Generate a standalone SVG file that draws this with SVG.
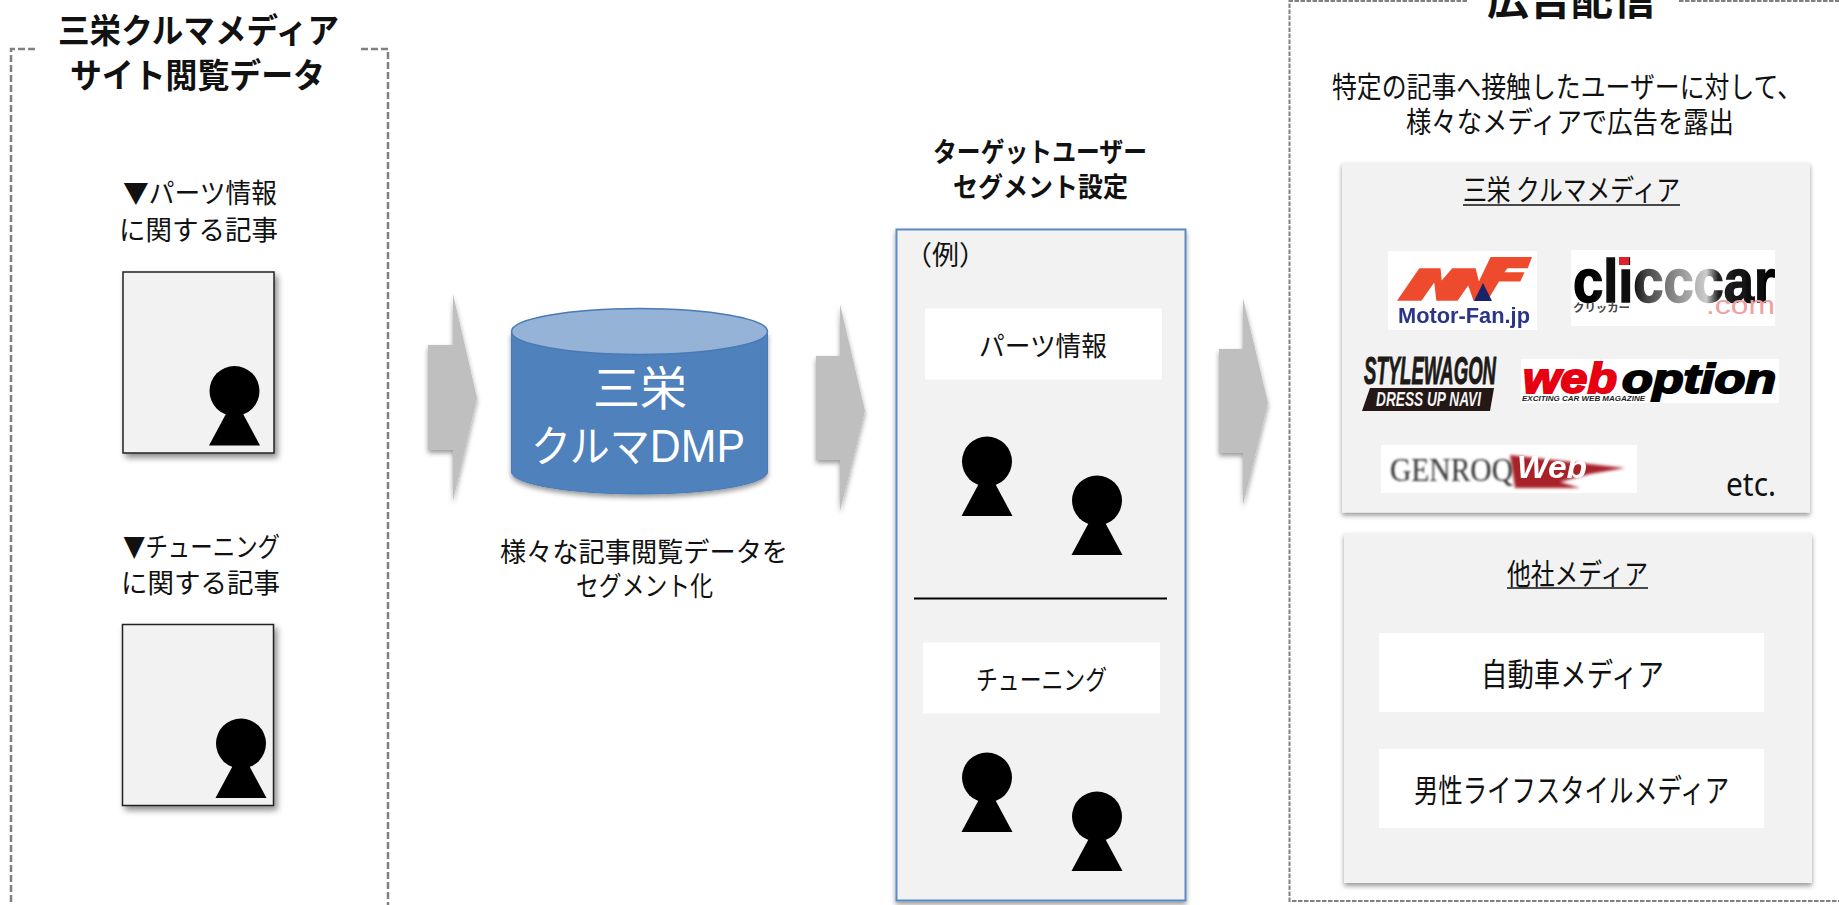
<svg xmlns="http://www.w3.org/2000/svg" width="1839" height="905" viewBox="0 0 1839 905">
<style>
text{font-family:"Noto Sans CJK JP","Noto Sans",sans-serif;fill:#111}
.b{font-weight:700}
.t27{font-size:27px}
.t29{font-size:29px}
.t32{font-size:32px}
.dash{fill:none;stroke:#808080;stroke-width:2.500;stroke-dasharray:7 3}
.dash2{fill:none;stroke:#808080;stroke-width:2;stroke-dasharray:4.500 1.500}
.doc{fill:#f2f2f2;stroke:#222;stroke-width:1.500}
.panel{fill:#f2f2f2}
.wh{fill:#fff}
.arrow{fill:#bfbfbf}
.ul{stroke:#111;stroke-width:1.500}
.sans{font-family:"Liberation Sans",sans-serif}
.ser{font-family:"Liberation Serif",serif}
</style>
<defs>
<filter id="sh" x="-10%" y="-10%" width="125%" height="125%"><feDropShadow dx="3" dy="4" stdDeviation="3" flood-color="#000" flood-opacity=".45"/></filter>
<filter id="sh2" x="-10%" y="-10%" width="120%" height="120%"><feDropShadow dx="0" dy="3" stdDeviation="2.500" flood-color="#000" flood-opacity=".4"/></filter>
<filter id="soft"><feGaussianBlur stdDeviation=".45"/></filter>
<filter id="bl"><feGaussianBlur stdDeviation=".8"/></filter>
<filter id="bl2" x="-10%" y="-30%" width="120%" height="160%"><feGaussianBlur stdDeviation="1.500"/></filter>
<linearGradient id="cc" x1="0" x2="1" y1="0" y2="0"><stop offset="0" stop-color="#000"/><stop offset=".3" stop-color="#111"/><stop offset=".36" stop-color="#444"/><stop offset=".5" stop-color="#888"/><stop offset=".66" stop-color="#ccc"/><stop offset=".72" stop-color="#222"/><stop offset="1" stop-color="#000"/></linearGradient>
<g id="person"><circle r="25"/><polygon points="0,7 25.500,54.500 -25.500,54.500"/></g>
</defs>
<rect width="1839" height="905" fill="#fff"/>

<g id="source-frame">
<path class="dash" d="M35 49H11V905M361 49H388V905"/>
<text class="b" x="58" y="43" font-size="34" textLength="281" lengthAdjust="spacingAndGlyphs">三栄クルマメディア</text>
<text class="b" x="70" y="88" font-size="34" textLength="255" lengthAdjust="spacingAndGlyphs">サイト閲覧データ</text>
</g>

<g id="doc-parts">
<text class="t27" x="123" y="203" textLength="154" lengthAdjust="spacingAndGlyphs">▼パーツ情報</text>
<text class="t27" x="119" y="240" textLength="159" lengthAdjust="spacingAndGlyphs">に関する記事</text>
<rect class="doc" x="123" y="272" width="151" height="181" filter="url(#sh)"/>
<use href="#person" x="234.500" y="391"/>
</g>

<g id="doc-tuning">
<text class="t27" x="123" y="557" textLength="157" lengthAdjust="spacingAndGlyphs">▼チューニング</text>
<text class="t27" x="121" y="593" textLength="159" lengthAdjust="spacingAndGlyphs">に関する記事</text>
<rect class="doc" x="122.500" y="624.500" width="151" height="181" filter="url(#sh)"/>
<use href="#person" x="241" y="743.500"/>
</g>

<g id="connectors">
<polygon class="arrow" filter="url(#sh2)" points="428,345 453,345 453,294 477,398 453,501 453,450 428,450"/>
<polygon class="arrow" filter="url(#sh2)" points="816,356 840,356 840,304 865,411 840,511 840,460 816,460"/>
<polygon class="arrow" filter="url(#sh2)" points="1219,349 1243,349 1243,298 1268,403 1243,505 1243,453 1219,453"/>
</g>

<g id="dmp">
<path d="M511.500 332V472C511.500 484 569 494 640 494S767.500 484 767.500 472V332Z" fill="#4f81bd" stroke="#4a7ab5" filter="url(#sh2)"/>
<ellipse cx="639.500" cy="331.500" rx="128" ry="23" fill="#95b3d7" stroke="#4a7ab5" stroke-width="1.500"/>
<text x="640" y="405" font-size="47" text-anchor="middle" style="fill:#fff">三栄</text>
<text x="531" y="462" font-size="43" textLength="214" lengthAdjust="spacingAndGlyphs" style="fill:#fff">クルマ<tspan class="sans" font-size="46">DMP</tspan></text>
<text class="t27" x="500" y="562" textLength="288" lengthAdjust="spacingAndGlyphs">様々な記事閲覧データを</text>
<text class="t27" x="576" y="596" textLength="137" lengthAdjust="spacingAndGlyphs">セグメント化</text>
</g>

<g id="segment">
<text class="b" x="933" y="162" font-size="27" textLength="214" lengthAdjust="spacingAndGlyphs">ターゲットユーザー</text>
<text class="b" x="953" y="197" font-size="27" textLength="175" lengthAdjust="spacingAndGlyphs">セグメント設定</text>
<rect x="896.500" y="229.500" width="289" height="671" fill="#f2f2f2" stroke="#5b8bc5" stroke-width="2" filter="url(#sh2)"/>
<text class="t27" x="905" y="265">（例）</text>
<rect class="wh" x="925" y="308.500" width="237" height="71"/>
<text class="t27" x="979" y="356" textLength="128" lengthAdjust="spacingAndGlyphs">パーツ情報</text>
<use href="#person" x="987" y="461.500"/>
<use href="#person" x="1097" y="500.500"/>
<line x1="914" y1="598.500" x2="1167" y2="598.500" stroke="#000" stroke-width="2"/>
<rect class="wh" x="923" y="642.500" width="237" height="71"/>
<text class="t27" x="976" y="690" textLength="131" lengthAdjust="spacingAndGlyphs">チューニング</text>
<use href="#person" x="987" y="777.500"/>
<use href="#person" x="1097" y="816.500"/>
</g>

<g id="delivery-frame">
<path class="dash2" d="M1467 1H1289.500V901H1839M1679 1H1839"/>
<text class="b" x="1487" y="15" font-size="42" textLength="168" lengthAdjust="spacingAndGlyphs">広告配信</text>
<text class="t29" x="1332" y="98" textLength="470" lengthAdjust="spacingAndGlyphs">特定の記事へ接触したユーザーに対して、</text>
<text class="t29" x="1406" y="133" textLength="328" lengthAdjust="spacingAndGlyphs">様々なメディアで広告を露出</text>
</g>

<g id="own-media">
<rect class="panel" x="1342" y="162.500" width="468" height="350" filter="url(#sh2)"/>
<text class="t29" x="1463" y="201" textLength="217" lengthAdjust="spacingAndGlyphs">三栄 クルマメディア</text>
<line class="ul" x1="1463" y1="205" x2="1680" y2="205"/>
<text x="1726" y="496" font-size="32" textLength="50" lengthAdjust="spacingAndGlyphs" style="font-family:'Noto Sans',sans-serif">etc.</text>
</g>

<g id="logo-motorfan">
<rect class="wh" x="1388" y="251" width="149" height="79"/>
<path filter="url(#soft)" transform="translate(1397 257) scale(1.063 1.02) translate(-1389 -253)" d="M1389 296L1410 264H1430L1431 276L1441 264H1463L1466 277L1477 253H1516L1512 264H1493L1490 268H1509L1505 277H1485L1474 296H1461L1456 281L1446 296H1426L1424 278L1412 296Z" fill="#ee4c2f"/>
<polygon points="1483,283 1492,301 1474,301" fill="#1a2368"/>
<text class="sans b" x="1398" y="323" font-size="22" textLength="132" lengthAdjust="spacingAndGlyphs" filter="url(#soft)" style="fill:#2a3488">Motor-Fan.jp</text>
</g>

<g id="logo-clicccar">
<rect class="wh" x="1571" y="250" width="204" height="76"/>
<text class="sans b" x="1573" y="302" font-size="62" textLength="202" lengthAdjust="spacingAndGlyphs" stroke="url(#cc)" stroke-width="1.500" filter="url(#soft)" style="fill:url(#cc)">clicccar</text>
<rect x="1619" y="257" width="10" height="8" fill="#e2202c"/>
<text x="1573" y="312" font-size="11" class="b" textLength="57" lengthAdjust="spacingAndGlyphs" style="fill:#444">クリッカー</text>
<text class="sans" x="1706" y="314" font-size="26" textLength="69" lengthAdjust="spacingAndGlyphs" style="fill:#f0a0a0">.com</text>
</g>

<g id="logo-stylewagon">
<text class="sans b" x="1364" y="384" font-size="38" font-style="italic" textLength="132" lengthAdjust="spacingAndGlyphs" stroke="#1e1a18" stroke-width="1" style="fill:#1e1a18">STYLEWAGON</text>
<polygon points="1370,388 1494,388 1490,411 1362,411" fill="#231815"/>
<text class="sans b" x="1376" y="406" font-size="20" font-style="italic" textLength="105" lengthAdjust="spacingAndGlyphs" style="fill:#f4f4f4">DRESS UP NAVI</text>
</g>

<g id="logo-weboption">
<rect class="wh" x="1521" y="359" width="258" height="44"/>
<text class="sans b" x="1523" y="393" font-size="42" font-style="italic" textLength="94" lengthAdjust="spacingAndGlyphs" stroke="#e60012" stroke-width="2" style="fill:#e60012">web</text>
<text class="sans b" x="1622" y="393" font-size="40" font-style="italic" textLength="154" lengthAdjust="spacingAndGlyphs" stroke="#000" stroke-width="2" style="fill:#000">option</text>
<text class="sans b" x="1522" y="401" font-size="8" font-style="italic" textLength="123" lengthAdjust="spacingAndGlyphs" style="fill:#222">EXCITING CAR WEB MAGAZINE</text>
</g>

<g id="logo-genroq">
<rect class="wh" x="1381" y="445" width="256" height="48"/>
<path d="M1510 455L1625 468L1590 474L1560 482L1580 488H1515Z" fill="#a8242c" filter="url(#bl2)"/>
<text class="ser" x="1390" y="481" font-size="34" textLength="123" lengthAdjust="spacingAndGlyphs" filter="url(#bl)" style="fill:#333">GENROQ</text>
<text class="sans b" x="1517" y="478" font-size="32" font-style="italic" textLength="70" lengthAdjust="spacingAndGlyphs" filter="url(#soft)" style="fill:#fff">Web</text>
</g>

<g id="other-media">
<rect class="panel" x="1344" y="533" width="468" height="350" filter="url(#sh2)"/>
<text class="t29" x="1507" y="585" textLength="141" lengthAdjust="spacingAndGlyphs">他社メディア</text>
<line class="ul" x1="1507" y1="588" x2="1648" y2="588"/>
<rect class="wh" x="1379" y="633" width="385" height="79"/>
<text class="t32" x="1481" y="686" textLength="183" lengthAdjust="spacingAndGlyphs">自動車メディア</text>
<rect class="wh" x="1379" y="749" width="385" height="79"/>
<text class="t32" x="1414" y="802" textLength="315" lengthAdjust="spacingAndGlyphs">男性ライフスタイルメディア</text>
</g>
</svg>
